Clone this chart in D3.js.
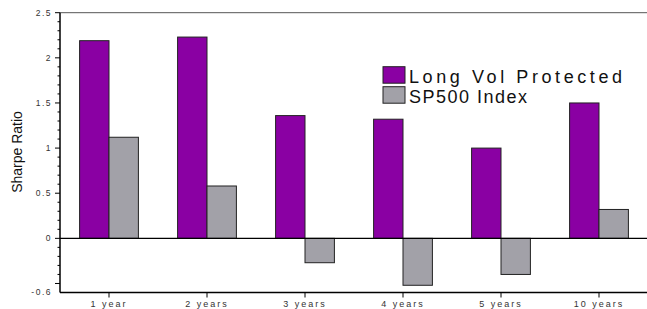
<!DOCTYPE html>
<html>
<head>
<meta charset="utf-8">
<script src="https://cdn.jsdelivr.net/npm/d3@7"></script>
<style>
  body { margin: 0; background: #fff; }
  svg { display: block; font-family: "Liberation Sans", Arial, sans-serif; }
</style>
</head>
<body>
<svg id="chart" width="647" height="309"></svg>
<script>
// chart data
const periods = ["1 year", "2 years", "3 years", "4 years", "5 years", "10 years"];
const seriesNames = ["Long Vol Protected", "SP500 Index"];
const longVol = [2.19, 2.23, 1.36, 1.32, 1.0, 1.5];
const sp500 = [1.12, 0.58, -0.27, -0.52, -0.40, 0.32];
const yTickLabels = [2.5, 2, 1.5, 1, 0.5, 0, -0.6];
const colors = ["#8a00a3", "#a2a1a8"];

const svg = d3.select("#chart");
const plotLeft = 60, plotRight = 648, plotTop = 12.7, plotBottom = 292.5;

const x = d3.scaleBand().domain(periods).range([plotLeft, plotRight])
    .paddingInner(0.4).paddingOuter(0.2);
const xs = d3.scaleBand().domain(seriesNames).range([0, x.bandwidth()]);
const y = d3.scaleLinear().domain([-0.6, 2.5]).range([plotBottom, plotTop]);

// frame top line
svg.append("line")
    .attr("x1", plotLeft).attr("x2", 647).attr("y1", plotTop).attr("y2", plotTop)
    .attr("stroke", "#555").attr("stroke-width", 1);

// bars
const rows = periods.map((p, i) => ({ period: p, values: [longVol[i], sp500[i]] }));
const groups = svg.selectAll(".grp").data(rows).enter().append("g")
    .attr("class", "grp")
    .attr("transform", d => `translate(${x(d.period)},0)`);
groups.selectAll("rect")
    .data(d => d.values.map((v, k) => ({ name: seriesNames[k], v: v, k: k })))
    .enter().append("rect")
    .attr("x", d => xs(d.name))
    .attr("width", xs.bandwidth())
    .attr("y", d => y(Math.max(0, d.v)))
    .attr("height", d => Math.abs(y(d.v) - y(0)))
    .attr("fill", d => colors[d.k])
    .attr("stroke", "#222").attr("stroke-width", 1);

// zero line
svg.append("line")
    .attr("x1", plotLeft).attr("x2", 647).attr("y1", y(0)).attr("y2", y(0))
    .attr("stroke", "#000").attr("stroke-width", 1.2);

// y axis
const yAxis = svg.append("g").attr("transform", `translate(${plotLeft},0)`);
yAxis.append("line").attr("x1", 0).attr("x2", 0).attr("y1", plotTop).attr("y2", plotBottom)
    .attr("stroke", "#000").attr("stroke-width", 1.5);
const minor = d3.range(-5, 26).map(d => d / 10);
yAxis.selectAll(".mt").data(minor).enter().append("line")
    .attr("x1", d => (Math.round(d * 10) % 5 === 0) ? -5 : -2.5).attr("x2", 0)
    .attr("y1", d => y(d)).attr("y2", d => y(d))
    .attr("stroke", "#000").attr("stroke-width", 1);
yAxis.selectAll(".yl").data(yTickLabels).enter().append("text")
    .attr("x", -8).attr("y", d => y(d)).attr("dy", "0.35em")
    .attr("text-anchor", "end")
    .attr("font-size", 8.5).attr("letter-spacing", "1.5px")
    .attr("fill", "#333")
    .text(d => d);

// x axis
svg.append("line").attr("x1", plotLeft).attr("x2", 647).attr("y1", plotBottom).attr("y2", plotBottom)
    .attr("stroke", "#000").attr("stroke-width", 1.5);
svg.selectAll(".xt").data(periods).enter().append("line")
    .attr("x1", d => x(d) + x.bandwidth() / 2).attr("x2", d => x(d) + x.bandwidth() / 2)
    .attr("y1", plotBottom).attr("y2", plotBottom + 5)
    .attr("stroke", "#000").attr("stroke-width", 1);
svg.selectAll(".xl").data(periods).enter().append("text")
    .attr("x", d => x(d) + x.bandwidth() / 2).attr("y", 307)
    .attr("text-anchor", "middle")
    .attr("font-size", 9).attr("letter-spacing", "2px")
    .attr("fill", "#333")
    .text(d => d);

// y title
svg.append("text")
    .attr("transform", "translate(22,152) rotate(-90)")
    .attr("text-anchor", "middle")
    .attr("font-size", 14).attr("fill", "#111")
    .text("Sharpe Ratio");

// legend
const legend = svg.append("g").selectAll("g").data(seriesNames).enter().append("g")
    .attr("transform", (d, i) => `translate(383,${66.7 + i * 20})`);
legend.append("rect")
    .attr("width", 22).attr("height", 16.5)
    .attr("fill", (d, i) => colors[i])
    .attr("stroke", "#222").attr("stroke-width", 1);
legend.append("text")
    .attr("x", 26).attr("y", 16)
    .attr("font-size", 18).attr("fill", "#111")
    .attr("textLength", (d, i) => i === 0 ? 213 : 118)
    .attr("lengthAdjust", "spacing")
    .text(d => d);
</script>
</body>
</html>
